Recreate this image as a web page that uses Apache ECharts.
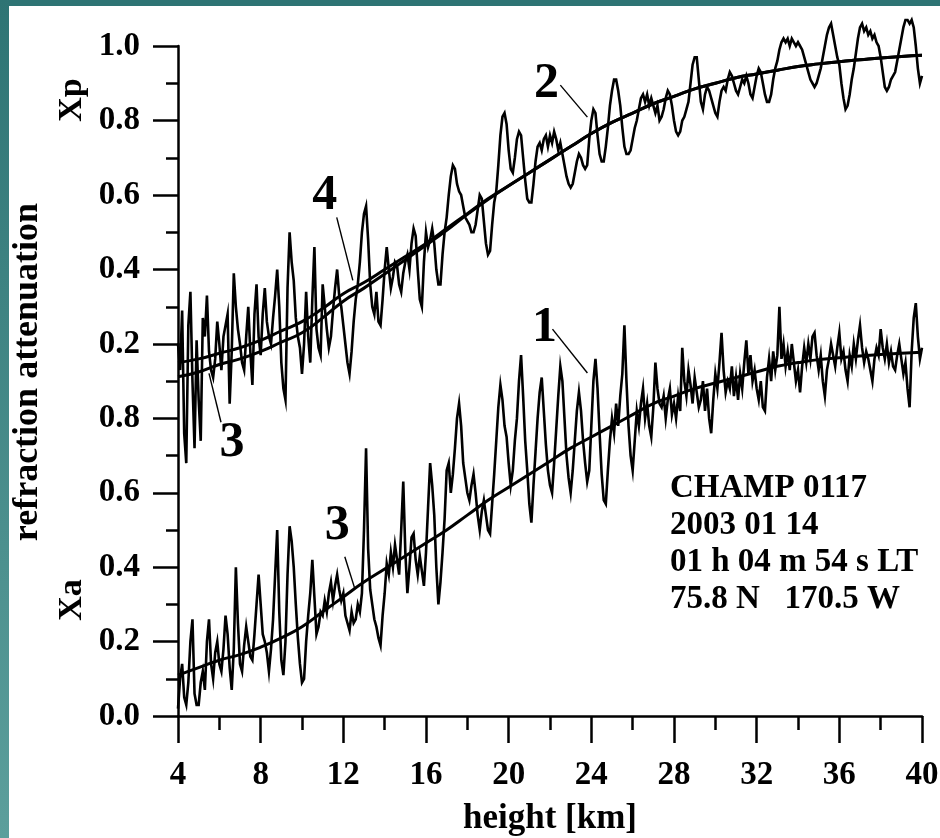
<!DOCTYPE html>
<html>
<head>
<meta charset="utf-8">
<script src="https://cdn.jsdelivr.net/npm/echarts@6/dist/echarts.min.js"></script>
<style>
html,body{margin:0;padding:0;background:#ffffff;}
#chart{width:940px;height:838px;}
</style>
</head>
<body>
<div id="chart"></div>
<script>
// ---------------- data ----------------
const heightStart = 4.0;   // km, first sample of the noisy profiles
const heightStep = 0.1;    // km, sampling step of the noisy profiles

// Xp (refraction) measured profile, one value per 0.1 km from 4.0 to 40.0 km
const xpMeasured = [
  0.20,0.13,0.29,-0.04,-0.12,0.25,0.34,0.10,-0.08,0.21,
  0.05,-0.06,0.27,0.22,0.33,0.18,0.13,0.11,0.16,0.26,
  0.20,0.13,0.22,0.25,0.28,0.04,0.18,0.39,0.30,0.24,
  0.20,0.15,0.13,0.22,0.30,0.18,0.09,0.28,0.36,0.22,
  0.17,0.28,0.35,0.26,0.22,0.20,0.27,0.33,0.40,0.30,
  0.15,0.08,0.05,0.35,0.50,0.42,0.37,0.27,0.22,0.19,
  0.12,0.20,0.34,0.22,0.15,0.32,0.46,0.24,0.19,0.17,
  0.36,0.30,0.24,0.19,0.22,0.29,0.35,0.40,0.33,0.30,
  0.25,0.20,0.15,0.12,0.18,0.26,0.32,0.36,0.42,0.50,
  0.55,0.57,0.48,0.36,0.30,0.28,0.34,0.26,0.25,0.32,
  0.40,0.46,0.40,0.35,0.38,0.42,0.41,0.36,0.34,0.39,
  0.42,0.44,0.40,0.47,0.51,0.49,0.40,0.32,0.30,0.42,
  0.50,0.46,0.48,0.51,0.47,0.40,0.36,0.36,0.44,0.50,
  0.54,0.60,0.65,0.68,0.67,0.63,0.61,0.60,0.57,0.54,
  0.53,0.52,0.50,0.50,0.52,0.56,0.60,0.59,0.53,0.47,
  0.44,0.45,0.52,0.58,0.61,0.68,0.76,0.81,0.82,0.79,
  0.72,0.67,0.66,0.70,0.75,0.77,0.76,0.70,0.64,0.59,
  0.58,0.58,0.63,0.69,0.73,0.74,0.72,0.75,0.76,0.73,
  0.76,0.74,0.77,0.75,0.72,0.74,0.71,0.68,0.65,0.63,
  0.62,0.63,0.66,0.69,0.71,0.70,0.68,0.67,0.68,0.75,
  0.80,0.83,0.82,0.76,0.71,0.69,0.69,0.73,0.78,0.84,
  0.88,0.91,0.91,0.88,0.84,0.78,0.73,0.71,0.71,0.72,
  0.75,0.78,0.80,0.83,0.86,0.87,0.85,0.87,0.84,0.86,
  0.84,0.82,0.84,0.80,0.81,0.83,0.86,0.88,0.87,0.84,
  0.80,0.77,0.76,0.77,0.80,0.81,0.83,0.85,0.90,0.95,
  0.97,0.97,0.91,0.85,0.83,0.87,0.89,0.88,0.86,0.84,
  0.82,0.81,0.85,0.88,0.89,0.88,0.91,0.93,0.92,0.90,
  0.88,0.87,0.89,0.91,0.90,0.92,0.90,0.87,0.86,0.89,
  0.92,0.94,0.93,0.90,0.87,0.85,0.85,0.87,0.91,0.94,
  0.96,0.99,1.01,1.02,1.01,1.02,1.00,1.02,1.01,1.00,
  1.01,1.00,0.99,0.97,0.95,0.93,0.91,0.90,0.89,0.90,
  0.92,0.94,0.97,1.00,1.03,1.05,1.06,1.03,1.00,0.97,
  0.95,0.90,0.86,0.83,0.84,0.87,0.91,0.94,0.98,1.02,
  1.05,1.06,1.04,1.05,1.03,1.04,1.02,1.03,1.01,1.00,
  0.97,0.93,0.89,0.88,0.89,0.91,0.92,0.93,0.96,0.99,
  1.02,1.05,1.07,1.07,1.06,1.07,1.05,1.00,0.94,0.90,
  0.92
];

// Xa (attenuation) measured profile, one value per 0.1 km from 4.0 to 40.0 km
const xaMeasured = [
  0.02,0.10,0.14,0.05,0.03,0.09,0.20,0.26,0.06,0.03,
  0.03,0.09,0.12,0.07,0.20,0.26,0.14,0.10,0.17,0.20,
  0.14,0.12,0.18,0.27,0.22,0.13,0.07,0.18,0.40,0.25,
  0.14,0.12,0.19,0.24,0.20,0.16,0.15,0.22,0.30,0.38,
  0.30,0.22,0.20,0.17,0.12,0.18,0.26,0.38,0.50,0.28,
  0.15,0.11,0.20,0.38,0.51,0.47,0.40,0.30,0.21,0.14,
  0.09,0.10,0.20,0.27,0.33,0.42,0.32,0.22,0.24,0.28,
  0.27,0.31,0.28,0.33,0.36,0.31,0.35,0.38,0.34,0.31,
  0.33,0.27,0.25,0.23,0.28,0.25,0.26,0.30,0.28,0.33,
  0.50,0.72,0.45,0.34,0.30,0.26,0.24,0.21,0.19,0.27,
  0.33,0.41,0.38,0.44,0.40,0.46,0.42,0.38,0.50,0.63,
  0.44,0.33,0.40,0.48,0.49,0.42,0.38,0.43,0.39,0.35,
  0.44,0.56,0.68,0.62,0.54,0.40,0.30,0.36,0.44,0.53,
  0.66,0.68,0.60,0.65,0.72,0.80,0.84,0.78,0.68,0.64,
  0.60,0.58,0.62,0.65,0.60,0.54,0.50,0.55,0.58,0.54,
  0.50,0.49,0.57,0.65,0.74,0.83,0.89,0.85,0.78,0.75,
  0.68,0.62,0.66,0.74,0.80,0.90,0.97,0.86,0.74,0.66,
  0.57,0.52,0.62,0.71,0.80,0.87,0.91,0.82,0.73,0.66,
  0.62,0.60,0.68,0.77,0.86,0.94,0.90,0.80,0.70,0.64,
  0.60,0.66,0.74,0.82,0.87,0.82,0.74,0.68,0.63,0.66,
  0.78,0.90,0.96,0.88,0.76,0.65,0.58,0.57,0.66,0.74,
  0.80,0.76,0.84,0.78,0.86,0.92,1.05,0.90,0.78,0.70,
  0.66,0.74,0.82,0.78,0.84,0.88,0.80,0.84,0.78,0.75,
  0.83,0.95,0.88,0.84,0.83,0.86,0.80,0.85,0.88,0.81,
  0.84,0.80,0.86,0.82,0.99,0.90,0.86,0.93,0.89,0.84,
  0.91,0.87,0.83,0.85,0.90,0.82,0.88,0.80,0.76,0.85,
  0.92,0.88,0.95,1.03,0.93,0.87,0.90,0.88,0.94,0.86,
  0.91,0.85,0.92,0.88,0.95,1.01,0.92,0.97,0.90,0.93,
  0.88,0.85,0.90,0.83,0.82,0.91,0.96,0.90,0.98,0.93,
  0.97,1.10,0.96,1.00,0.94,0.98,0.93,1.00,0.95,0.90,
  0.93,0.87,0.94,0.99,0.95,1.00,0.96,1.02,1.03,0.97,
  0.93,0.97,0.90,0.86,0.93,0.96,1.00,0.97,0.94,0.99,
  1.03,0.96,0.98,0.93,0.90,0.97,0.94,1.00,0.96,1.01,
  1.05,0.99,0.95,0.98,0.96,0.93,0.90,0.96,0.99,0.97,
  1.04,0.99,0.96,1.00,0.95,0.98,0.94,0.93,0.97,1.00,
  0.96,0.92,0.95,0.88,0.83,0.98,1.07,1.11,1.02,0.96,
  0.99
];

// model (smooth) curves, one value per km
const modelHeights = [4,5,6,7,8,9,10,11,12,13,14,15,16,17,18,19,20,21,22,23,24,25,26,27,28,29,30,31,32,33,34,35,36,37,38,39,40];
const xpModelA = [0.150,0.160,0.175,0.190,0.210,0.235,0.260,0.295,0.335,0.365,0.400,0.435,0.470,0.510,0.550,0.590,0.625,0.660,0.695,0.730,0.765,0.795,0.820,0.845,0.865,0.885,0.900,0.915,0.925,0.935,0.945,0.952,0.958,0.963,0.968,0.972,0.975];
const xpModelB = [0.112,0.125,0.145,0.160,0.180,0.205,0.230,0.270,0.315,0.350,0.388,0.426,0.465,0.505,0.548,0.588,0.625,0.660,0.695,0.730,0.765,0.795,0.820,0.845,0.865,0.885,0.900,0.915,0.925,0.935,0.945,0.952,0.958,0.963,0.968,0.972,0.975];
const xaModel  = [0.110,0.130,0.150,0.165,0.185,0.210,0.240,0.280,0.320,0.360,0.395,0.430,0.465,0.500,0.540,0.580,0.615,0.650,0.685,0.720,0.750,0.780,0.810,0.840,0.860,0.880,0.895,0.910,0.925,0.940,0.950,0.958,0.963,0.968,0.972,0.975,0.978];

const xTickLabels = ['4','8','12','16','20','24','28','32','36','40'];
const infoLines = ['CHAMP 0117', '2003 01 14', '01 h 04 m 54 s LT', '75.8 N   170.5 W'];

// ---------------- chart ----------------
const FONT = "'Liberation Serif','Times New Roman',serif";
const toPairs = (vals) => vals.map((v, i) => [Math.round((heightStart + i * heightStep) * 10) / 10, v]);
const modelPairs = (vals) => vals.map((v, i) => [modelHeights[i], v]);

const chart = echarts.init(document.getElementById('chart'), null, {renderer: 'canvas'});

const axisLineStyle = {color: '#000', width: 2.5};
const labelStyle = {color: '#000', fontFamily: FONT, fontWeight: 'bold', fontSize: 33};

const option = {
  backgroundColor: '#ffffff',
  animation: false,
  grid: [
    {left: 178, right: 18, top: 46, height: 298, containLabel: false, outerBoundsMode: 'none'},
    {left: 178, right: 18, top: 344, height: 372, containLabel: false, outerBoundsMode: 'none'}
  ],
  xAxis: [
    {gridIndex: 0, type: 'value', min: 4, max: 40, interval: 4, show: false},
    {gridIndex: 1, type: 'value', min: 4, max: 40, interval: 4,
      axisLine: {show: true, onZero: false, lineStyle: axisLineStyle},
      axisTick: {show: true, length: 27, lineStyle: {color: '#000', width: 2.5}},
      minorTick: {show: true, splitNumber: 2, length: 14, lineStyle: {color: '#000', width: 2.5}},
      splitLine: {show: false},
      axisLabel: Object.assign({margin: 43, showMinLabel: true, showMaxLabel: true, hideOverlap: false,
        formatter: (v) => { const i = Math.round((v - 4) / 4); return xTickLabels[i] !== undefined ? xTickLabels[i] : ''; }}, labelStyle),
      name: 'height [km]', nameLocation: 'middle', nameGap: 85,
      nameTextStyle: {color: '#000', fontFamily: FONT, fontWeight: 'bold', fontSize: 35}
    }
  ],
  yAxis: [
    {gridIndex: 0, type: 'value', min: 0.2, max: 1.0, interval: 0.2,
      axisLine: {show: true, onZero: false, lineStyle: axisLineStyle},
      axisTick: {show: true, length: 25, lineStyle: {color: '#000', width: 2.5}},
      minorTick: {show: true, splitNumber: 2, length: 12, lineStyle: {color: '#000', width: 2.5}},
      splitLine: {show: false},
      axisLabel: Object.assign({margin: 38, showMinLabel: true, showMaxLabel: true, formatter: (v) => v.toFixed(1)}, labelStyle)
    },
    {gridIndex: 1, type: 'value', min: 0, max: 1.0, interval: 0.2,
      axisLine: {show: true, onZero: false, lineStyle: axisLineStyle},
      axisTick: {show: true, length: 25, lineStyle: {color: '#000', width: 2.5}},
      minorTick: {show: true, splitNumber: 2, length: 12, lineStyle: {color: '#000', width: 2.5}},
      splitLine: {show: false},
      axisLabel: Object.assign({margin: 38, showMinLabel: true, showMaxLabel: true,
        formatter: (v) => (v > 0.95 ? '' : v.toFixed(1))}, labelStyle)
    }
  ],
  series: [
    {name: 'Xp measured', type: 'line', xAxisIndex: 0, yAxisIndex: 0, data: toPairs(xpMeasured),
      showSymbol: false, clip: false, lineStyle: {color: '#000', width: 2.6, join: 'miter'}, z: 3},
    {name: 'Xp model A', type: 'line', xAxisIndex: 0, yAxisIndex: 0, data: modelPairs(xpModelA), smooth: true,
      showSymbol: false, clip: false, lineStyle: {color: '#000', width: 3}, z: 4},
    {name: 'Xp model B', type: 'line', xAxisIndex: 0, yAxisIndex: 0, data: modelPairs(xpModelB), smooth: true,
      showSymbol: false, clip: false, lineStyle: {color: '#000', width: 3}, z: 4},
    {name: 'Xa measured', type: 'line', xAxisIndex: 1, yAxisIndex: 1, data: toPairs(xaMeasured),
      showSymbol: false, clip: false, lineStyle: {color: '#000', width: 2.6, join: 'miter'}, z: 3},
    {name: 'Xa model', type: 'line', xAxisIndex: 1, yAxisIndex: 1, data: modelPairs(xaModel), smooth: true,
      showSymbol: false, clip: false, lineStyle: {color: '#000', width: 3}, z: 4}
  ]
};
chart.setOption(option);

// annotations: curve numbers with leader lines, placed in data coordinates
const curveMarks = [
  {text: '2', grid: 0, at: [21.83, 0.898], from: [22.5, 0.895], to: [23.81, 0.809]},
  {text: '4', grid: 0, at: [11.1, 0.597], from: [11.68, 0.54], to: [12.46, 0.371]},
  {text: '3', grid: 0, at: [6.61, -0.067], from: [6.08, -0.01], to: [5.5, 0.121]},
  {text: '1', grid: 1, at: [21.73, 1.043], from: [22.12, 1.04], to: [23.81, 0.922]},
  {text: '3', grid: 1, at: [11.7, 0.51], from: [12.07, 0.428], to: [12.55, 0.343]}
];

const graphics = [
  {type: 'rect', left: 0, top: 0, z: 100, shape: {width: 940, height: 6}, style: {fill: '#2e7474'}},
  {type: 'rect', left: 0, top: 0, z: 100, shape: {width: 9, height: 838},
    style: {fill: new echarts.graphic.LinearGradient(0, 0, 0, 1, [{offset: 0, color: '#2e7474'}, {offset: 1, color: '#5c9f9c'}])}},
  {type: 'text', x: 28, y: 372, rotation: Math.PI / 2, z: 50,
    style: {text: 'refraction attenuation', fill: '#000', font: 'bold 36px ' + FONT, textAlign: 'center', textVerticalAlign: 'middle'}},
  {type: 'text', x: 72, y: 100, rotation: Math.PI / 2, z: 50,
    style: {text: 'Xp', fill: '#000', font: 'bold 34px ' + FONT, textAlign: 'center', textVerticalAlign: 'middle'}},
  {type: 'text', x: 72, y: 600, rotation: Math.PI / 2, z: 50,
    style: {text: 'Xa', fill: '#000', font: 'bold 34px ' + FONT, textAlign: 'center', textVerticalAlign: 'middle'}},
  {type: 'text', x: 670, y: 470, z: 50,
    style: {text: infoLines.join('\n'), fill: '#000', font: 'bold 33px ' + FONT, lineHeight: 37, textAlign: 'left', textVerticalAlign: 'top'}}
];

curveMarks.forEach((m) => {
  const p = chart.convertToPixel({gridIndex: m.grid}, m.at);
  const a = chart.convertToPixel({gridIndex: m.grid}, m.from);
  const b = chart.convertToPixel({gridIndex: m.grid}, m.to);
  graphics.push({type: 'line', z: 40, shape: {x1: a[0], y1: a[1], x2: b[0], y2: b[1]}, style: {stroke: '#000', lineWidth: 1.4}});
  graphics.push({type: 'text', x: p[0], y: p[1], z: 50,
    style: {text: m.text, fill: '#000', font: 'bold 50px ' + FONT, textAlign: 'center', textVerticalAlign: 'middle'}});
});

chart.setOption({graphic: graphics});
</script>
</body>
</html>
